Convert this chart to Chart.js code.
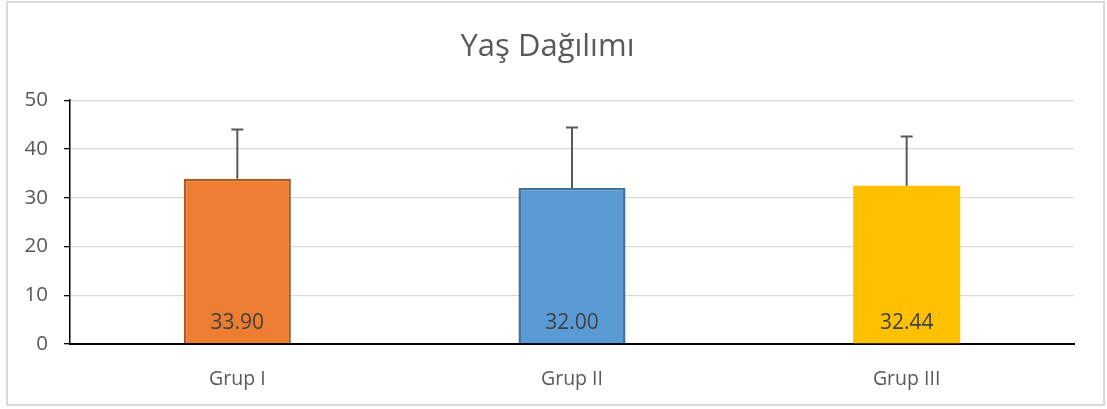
<!DOCTYPE html>
<html>
<head>
<meta charset="utf-8">
<script src="https://cdn.jsdelivr.net/npm/chart.js@4.4.1/dist/chart.umd.min.js"></script>
<style>
  html, body { margin: 0; padding: 0; background: #fff; }
  #wrap { position: relative; width: 1107px; height: 409px; }
  #frame { position: absolute; left: 6px; top: 1px; width: 1095px; height: 401px; border: 2px solid #D9D9D9; pointer-events: none; }
</style>
</head>
<body>
<div id="wrap">
  <canvas id="ageChart" width="1107" height="409"></canvas>
  <div id="frame"></div>
</div>
<script>
const groups = ['Grup I', 'Grup II', 'Grup III'];
const meanAge = [33.90, 32.00, 32.44];
const sdAge = [10.1, 12.4, 10.1];
const yTicks = [0, 10, 20, 30, 40, 50];

const fillColors = ['#ED7D31', '#5B9BD5', '#FFC000'];
const edgeColors = ['#AE5A21', '#41719C', '#FFC000'];
const edgeWidths = [2.5, 2.5, 0];

const textGrey = '#595959';
const fontName = "'Open Sans', sans-serif";

// error bars (upper only) + value labels near the base of each bar
const barExtras = {
  id: 'barExtras',
  afterDatasetsDraw(chart) {
    const ctx = chart.ctx;
    const yScale = chart.scales.y;
    const meta = chart.getDatasetMeta(0);
    const base = yScale.getPixelForValue(0);
    ctx.save();
    meta.data.forEach((bar, i) => {
      const top = yScale.getPixelForValue(meanAge[i] + sdAge[i]);
      ctx.strokeStyle = textGrey;
      ctx.lineWidth = 2;
      ctx.beginPath();
      ctx.moveTo(bar.x, bar.y);
      ctx.lineTo(bar.x, top);
      ctx.moveTo(bar.x - 6, top);
      ctx.lineTo(bar.x + 6, top);
      ctx.stroke();

      ctx.fillStyle = '#404040';
      ctx.font = `21px ${fontName}`;
      ctx.textAlign = 'center';
      ctx.textBaseline = 'middle';
      ctx.fillText(meanAge[i].toFixed(2), bar.x, base - 21);
    });
    ctx.restore();
  }
};

new Chart(document.getElementById('ageChart'), {
  type: 'bar',
  data: {
    labels: groups,
    datasets: [{
      data: meanAge,
      backgroundColor: fillColors,
      borderColor: edgeColors,
      borderWidth: edgeWidths,
      borderSkipped: 'start',
      categoryPercentage: 1,
      barPercentage: 0.32
    }]
  },
  options: {
    responsive: false,
    animation: false,
    layout: { padding: { left: 21, right: 33, top: 0, bottom: 0 } },
    plugins: {
      legend: { display: false },
      tooltip: { enabled: false },
      title: {
        display: true,
        text: 'Yaş Dağılımı',
        color: textGrey,
        font: { family: fontName, size: 31, weight: 'normal' },
        padding: { top: 29, bottom: 34 }
      }
    },
    scales: {
      x: {
        grid: { display: false, drawTicks: false },
        border: { display: true, color: '#000', width: 2 },
        ticks: { color: textGrey, padding: 24, font: { family: fontName, size: 19.5 } },
        afterFit(scale) { scale.height = 65; }
      },
      y: {
        min: 0,
        max: 50,
        afterBuildTicks(scale) { scale.ticks = yTicks.map(v => ({ value: v })); },
        grid: { color: '#D9D9D9', lineWidth: 1.3, tickColor: '#000', tickLength: 6 },
        border: { display: true, color: '#000', width: 1.5 },
        ticks: { color: textGrey, padding: 16, font: { family: fontName, size: 20.5 } },
        afterFit(scale) { scale.width = 49; }
      }
    }
  },
  plugins: [barExtras]
});
</script>
</body>
</html>
